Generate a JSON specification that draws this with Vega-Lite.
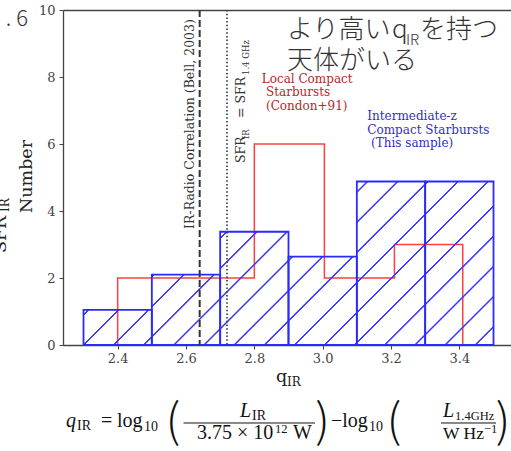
{
"$schema": "https://vega.github.io/schema/vega-lite/v6.json",
"width": 448, "height": 335,
"autosize": "none",
"padding": {"left": 63, "top": 10, "right": 0, "bottom": 106},
"background": "white",
"config": {"view": {"stroke": null}},
"resolve": {"axis": {"x": "independent", "y": "independent"}},
"layer": [
{
"data": {"values": [
{"i":0,"q":2.4,"n":0},{"i":1,"q":2.4,"n":2},{"i":2,"q":2.8,"n":2},{"i":3,"q":2.8,"n":6},{"i":4,"q":3.005,"n":6},{"i":5,"q":3.005,"n":2},{"i":6,"q":3.21,"n":2},{"i":7,"q":3.21,"n":3},{"i":8,"q":3.41,"n":3},{"i":9,"q":3.41,"n":0}]},
"mark": {"type": "line", "color": "#ff4040", "strokeWidth": 1.5, "interpolate": "linear"},
"encoding": {
"x": {"field": "q", "type": "quantitative", "scale": {"domain": [2.24, 3.5512], "nice": false, "zero": false}, "axis": null},
"y": {"field": "n", "type": "quantitative", "scale": {"domain": [0, 10], "nice": false, "zero": false}, "axis": null},
"order": {"field": "i"}
}
},
{
"data": {"values": [
{"start":2.3,"end":2.5,"count":1.05},
{"start":2.5,"end":2.7,"count":2.1},
{"start":2.7,"end":2.9,"count":3.38},
{"start":2.9,"end":3.1,"count":2.64},
{"start":3.1,"end":3.3,"count":4.88},
{"start":3.3,"end":3.5,"count":4.88}]},
"mark": {"type": "bar", "stroke": "#2a2aff", "strokeWidth": 1.8},
"encoding": {
"x": {"field": "start", "type": "quantitative", "axis": {"orient": "bottom", "values": [2.4,2.6,2.8,3.0,3.2,3.4], "format": ".1f", "title": null, "grid": false, "labelFont": "DejaVu Serif", "labelFontSize": 13, "labelColor": "#444", "tickColor": "#444", "domainColor": "#444", "domainWidth": 1.3, "tickSize": 4, "labelPadding": 3}},
"x2": {"field": "end"},
"y": {"field": "count", "type": "quantitative", "axis": {"orient": "left", "values": [0,2,4,6,8,10], "title": null, "grid": false, "labelFont": "DejaVu Serif", "labelFontSize": 13, "labelColor": "#444", "tickColor": "#444", "domainColor": "#444", "domainWidth": 1.3, "tickSize": 4, "labelPadding": 4}},
"y2": {"datum": 0},
"fill": {"condition": [
{"test": "datum.start == 2.3", "value": {"gradient": "linear", "x1": 0, "y1": 0, "x2": 1.1975, "y2": 0.6165, "stops": [
{"offset":0.0352,"color":"rgba(58,58,255,0)"},{"offset":0.0419,"color":"#3a3aff"},{"offset":0.0555,"color":"#3a3aff"},{"offset":0.0622,"color":"rgba(58,58,255,0)"},
{"offset":0.3263,"color":"rgba(58,58,255,0)"},{"offset":0.3330,"color":"#3a3aff"},{"offset":0.3466,"color":"#3a3aff"},{"offset":0.3533,"color":"rgba(58,58,255,0)"},
{"offset":0.6174,"color":"rgba(58,58,255,0)"},{"offset":0.6241,"color":"#3a3aff"},{"offset":0.6377,"color":"#3a3aff"},{"offset":0.6444,"color":"rgba(58,58,255,0)"},
{"offset":0.9084,"color":"rgba(58,58,255,0)"},{"offset":0.9151,"color":"#3a3aff"},{"offset":0.9287,"color":"#3a3aff"},{"offset":0.9354,"color":"rgba(58,58,255,0)"}]}},
{"test": "datum.start == 2.5", "value": {"gradient": "linear", "x1": 0, "y1": 0, "x2": 0.9852, "y2": 1.0144, "stops": [
{"offset":0.0045,"color":"rgba(58,58,255,0)"},{"offset":0.0096,"color":"#3a3aff"},{"offset":0.0197,"color":"#3a3aff"},{"offset":0.0247,"color":"rgba(58,58,255,0)"},
{"offset":0.2217,"color":"rgba(58,58,255,0)"},{"offset":0.2268,"color":"#3a3aff"},{"offset":0.2369,"color":"#3a3aff"},{"offset":0.2419,"color":"rgba(58,58,255,0)"},
{"offset":0.4390,"color":"rgba(58,58,255,0)"},{"offset":0.4441,"color":"#3a3aff"},{"offset":0.4542,"color":"#3a3aff"},{"offset":0.4592,"color":"rgba(58,58,255,0)"},
{"offset":0.6563,"color":"rgba(58,58,255,0)"},{"offset":0.6614,"color":"#3a3aff"},{"offset":0.6715,"color":"#3a3aff"},{"offset":0.6765,"color":"rgba(58,58,255,0)"},
{"offset":0.8735,"color":"rgba(58,58,255,0)"},{"offset":0.8786,"color":"#3a3aff"},{"offset":0.8887,"color":"#3a3aff"},{"offset":0.8937,"color":"rgba(58,58,255,0)"}]}},
{"test": "datum.start == 2.7", "value": {"gradient": "linear", "x1": 0, "y1": 0, "x2": 0.7093, "y2": 1.1754, "stops": [
{"offset":0.0291,"color":"rgba(58,58,255,0)"},{"offset":0.0329,"color":"#3a3aff"},{"offset":0.0407,"color":"#3a3aff"},{"offset":0.0445,"color":"rgba(58,58,255,0)"},
{"offset":0.1951,"color":"rgba(58,58,255,0)"},{"offset":0.1989,"color":"#3a3aff"},{"offset":0.2067,"color":"#3a3aff"},{"offset":0.2105,"color":"rgba(58,58,255,0)"},
{"offset":0.3610,"color":"rgba(58,58,255,0)"},{"offset":0.3648,"color":"#3a3aff"},{"offset":0.3726,"color":"#3a3aff"},{"offset":0.3764,"color":"rgba(58,58,255,0)"},
{"offset":0.5270,"color":"rgba(58,58,255,0)"},{"offset":0.5308,"color":"#3a3aff"},{"offset":0.5386,"color":"#3a3aff"},{"offset":0.5424,"color":"rgba(58,58,255,0)"},
{"offset":0.6929,"color":"rgba(58,58,255,0)"},{"offset":0.6967,"color":"#3a3aff"},{"offset":0.7045,"color":"#3a3aff"},{"offset":0.7083,"color":"rgba(58,58,255,0)"},
{"offset":0.8589,"color":"rgba(58,58,255,0)"},{"offset":0.8627,"color":"#3a3aff"},{"offset":0.8705,"color":"#3a3aff"},{"offset":0.8743,"color":"rgba(58,58,255,0)"}]}},
{"test": "datum.start == 2.9", "value": {"gradient": "linear", "x1": 0, "y1": 0, "x2": 0.8576, "y2": 1.1100, "stops": [
{"offset":0.0164,"color":"rgba(58,58,255,0)"},{"offset":0.0208,"color":"#3a3aff"},{"offset":0.0298,"color":"#3a3aff"},{"offset":0.0342,"color":"rgba(58,58,255,0)"},
{"offset":0.2086,"color":"rgba(58,58,255,0)"},{"offset":0.2130,"color":"#3a3aff"},{"offset":0.2220,"color":"#3a3aff"},{"offset":0.2264,"color":"rgba(58,58,255,0)"},
{"offset":0.4007,"color":"rgba(58,58,255,0)"},{"offset":0.4051,"color":"#3a3aff"},{"offset":0.4141,"color":"#3a3aff"},{"offset":0.4185,"color":"rgba(58,58,255,0)"},
{"offset":0.5929,"color":"rgba(58,58,255,0)"},{"offset":0.5973,"color":"#3a3aff"},{"offset":0.6063,"color":"#3a3aff"},{"offset":0.6107,"color":"rgba(58,58,255,0)"},
{"offset":0.7851,"color":"rgba(58,58,255,0)"},{"offset":0.7895,"color":"#3a3aff"},{"offset":0.7985,"color":"#3a3aff"},{"offset":0.8029,"color":"rgba(58,58,255,0)"},
{"offset":0.9773,"color":"rgba(58,58,255,0)"},{"offset":0.9817,"color":"#3a3aff"},{"offset":0.9907,"color":"#3a3aff"},{"offset":0.9951,"color":"rgba(58,58,255,0)"}]}},
{"test": "datum.start == 3.1", "value": {"gradient": "linear", "x1": 0, "y1": 0, "x2": 0.5045, "y2": 1.2071, "stops": [
{"offset":0.0400,"color":"rgba(58,58,255,0)"},{"offset":0.0430,"color":"#3a3aff"},{"offset":0.0490,"color":"#3a3aff"},{"offset":0.0520,"color":"rgba(58,58,255,0)"},
{"offset":0.1700,"color":"rgba(58,58,255,0)"},{"offset":0.1730,"color":"#3a3aff"},{"offset":0.1790,"color":"#3a3aff"},{"offset":0.1820,"color":"rgba(58,58,255,0)"},
{"offset":0.2999,"color":"rgba(58,58,255,0)"},{"offset":0.3029,"color":"#3a3aff"},{"offset":0.3089,"color":"#3a3aff"},{"offset":0.3119,"color":"rgba(58,58,255,0)"},
{"offset":0.4299,"color":"rgba(58,58,255,0)"},{"offset":0.4329,"color":"#3a3aff"},{"offset":0.4389,"color":"#3a3aff"},{"offset":0.4419,"color":"rgba(58,58,255,0)"},
{"offset":0.5599,"color":"rgba(58,58,255,0)"},{"offset":0.5629,"color":"#3a3aff"},{"offset":0.5689,"color":"#3a3aff"},{"offset":0.5719,"color":"rgba(58,58,255,0)"},
{"offset":0.6899,"color":"rgba(58,58,255,0)"},{"offset":0.6929,"color":"#3a3aff"},{"offset":0.6989,"color":"#3a3aff"},{"offset":0.7019,"color":"rgba(58,58,255,0)"},
{"offset":0.8198,"color":"rgba(58,58,255,0)"},{"offset":0.8228,"color":"#3a3aff"},{"offset":0.8288,"color":"#3a3aff"},{"offset":0.8318,"color":"rgba(58,58,255,0)"},
{"offset":0.9498,"color":"rgba(58,58,255,0)"},{"offset":0.9528,"color":"#3a3aff"},{"offset":0.9588,"color":"#3a3aff"},{"offset":0.9618,"color":"rgba(58,58,255,0)"}]}},
{"test": "datum.start == 3.3", "value": {"gradient": "linear", "x1": 0, "y1": 0, "x2": 0.5045, "y2": 1.2071, "stops": [
{"offset":0.0052,"color":"rgba(58,58,255,0)"},{"offset":0.0082,"color":"#3a3aff"},{"offset":0.0142,"color":"#3a3aff"},{"offset":0.0172,"color":"rgba(58,58,255,0)"},
{"offset":0.1352,"color":"rgba(58,58,255,0)"},{"offset":0.1382,"color":"#3a3aff"},{"offset":0.1442,"color":"#3a3aff"},{"offset":0.1472,"color":"rgba(58,58,255,0)"},
{"offset":0.2651,"color":"rgba(58,58,255,0)"},{"offset":0.2681,"color":"#3a3aff"},{"offset":0.2741,"color":"#3a3aff"},{"offset":0.2771,"color":"rgba(58,58,255,0)"},
{"offset":0.3951,"color":"rgba(58,58,255,0)"},{"offset":0.3981,"color":"#3a3aff"},{"offset":0.4041,"color":"#3a3aff"},{"offset":0.4071,"color":"rgba(58,58,255,0)"},
{"offset":0.5251,"color":"rgba(58,58,255,0)"},{"offset":0.5281,"color":"#3a3aff"},{"offset":0.5341,"color":"#3a3aff"},{"offset":0.5371,"color":"rgba(58,58,255,0)"},
{"offset":0.6551,"color":"rgba(58,58,255,0)"},{"offset":0.6581,"color":"#3a3aff"},{"offset":0.6641,"color":"#3a3aff"},{"offset":0.6671,"color":"rgba(58,58,255,0)"},
{"offset":0.7850,"color":"rgba(58,58,255,0)"},{"offset":0.7880,"color":"#3a3aff"},{"offset":0.7940,"color":"#3a3aff"},{"offset":0.7970,"color":"rgba(58,58,255,0)"},
{"offset":0.9150,"color":"rgba(58,58,255,0)"},{"offset":0.9180,"color":"#3a3aff"},{"offset":0.9240,"color":"#3a3aff"},{"offset":0.9270,"color":"rgba(58,58,255,0)"}]}}
], "value": "transparent"}
}
},
{
"data": {"values": [{"q": 2.64}]},
"mark": {"type": "rule", "color": "#333", "strokeWidth": 2, "strokeDash": [7, 3]},
"encoding": {"x": {"field": "q", "type": "quantitative", "axis": {"orient": "top", "labels": false, "ticks": false, "title": null, "grid": false, "domainColor": "#444", "domainWidth": 1.3}}}
},
{
"data": {"values": [{"q": 2.72}]},
"mark": {"type": "rule", "color": "#333", "strokeWidth": 1.6, "strokeDash": [1.5, 2.2]},
"encoding": {"x": {"field": "q", "type": "quantitative", "axis": null}}
},
{
"data": {"values": [{"x": 2.1376, "y": 9.522, "t": ". 6"}]},
"mark": {"type": "text", "font": "Noto Sans CJK JP", "fontSize": 22, "fontWeight": 300, "color": "#333", "align": "right", "baseline": "alphabetic"},
"encoding": {"x": {"field": "x", "type": "quantitative", "axis": null}, "y": {"field": "y", "type": "quantitative", "axis": null}, "text": {"field": "t"}}
},
{
"data": {"values": [{"x": 2.8956, "y": 9.164, "t": "より高い"}, {"x": 3.2029, "y": 9.164, "t": "q"}, {"x": 3.2849, "y": 9.164, "t": "を持つ"}, {"x": 2.8956, "y": 8.224, "t": "天体がいる"}]},
"mark": {"type": "text", "font": "Noto Sans CJK JP", "fontSize": 26, "fontWeight": 300, "color": "#333", "align": "left", "baseline": "alphabetic"},
"encoding": {"x": {"field": "x", "type": "quantitative", "axis": null}, "y": {"field": "y", "type": "quantitative", "axis": null}, "text": {"field": "t"}}
},
{
"data": {"values": [{"x": 3.2439, "y": 8.97, "t": "IR"}]},
"mark": {"type": "text", "font": "Noto Sans CJK JP", "fontSize": 15, "fontWeight": 300, "color": "#333", "align": "left", "baseline": "alphabetic"},
"encoding": {"x": {"field": "x", "type": "quantitative", "axis": null}, "y": {"field": "y", "type": "quantitative", "axis": null}, "text": {"field": "t"}}
},
{
"data": {"values": [{"x": 2.8216, "y": 7.821, "t": "Local Compact"}, {"x": 2.8341, "y": 7.418, "t": "Starbursts"}, {"x": 2.8341, "y": 7.015, "t": "(Condon+91)"}]},
"mark": {"type": "text", "font": "DejaVu Serif", "fontSize": 12, "color": "#b22a2a", "align": "left", "baseline": "alphabetic"},
"encoding": {"x": {"field": "x", "type": "quantitative", "axis": null}, "y": {"field": "y", "type": "quantitative", "axis": null}, "text": {"field": "t"}}
},
{
"data": {"values": [{"x": 3.1306, "y": 6.716, "t": "Intermediate-z"}, {"x": 3.1306, "y": 6.299, "t": "Compact Starbursts"}, {"x": 3.1415, "y": 5.896, "t": "(This sample)"}]},
"mark": {"type": "text", "font": "DejaVu Serif", "fontSize": 12, "color": "#3030c0", "align": "left", "baseline": "alphabetic"},
"encoding": {"x": {"field": "x", "type": "quantitative", "axis": null}, "y": {"field": "y", "type": "quantitative", "axis": null}, "text": {"field": "t"}}
},
{
"data": {"values": [{"x": 2.6234, "y": 6.597, "t": "IR-Radio Correlation (Bell, 2003)"}]},
"mark": {"type": "text", "font": "DejaVu Serif", "fontSize": 12.5, "color": "#333", "align": "center", "baseline": "alphabetic", "angle": 270},
"encoding": {"x": {"field": "x", "type": "quantitative", "axis": null}, "y": {"field": "y", "type": "quantitative", "axis": null}, "text": {"field": "t"}}
},
{
"data": {"values": [{"x": 2.7727, "y": 5.433, "t": "SFR"}, {"x": 2.7727, "y": 6.776, "t": "= SFR"}]},
"mark": {"type": "text", "font": "DejaVu Serif", "fontSize": 12.5, "color": "#333", "align": "left", "baseline": "alphabetic", "angle": 270},
"encoding": {"x": {"field": "x", "type": "quantitative", "axis": null}, "y": {"field": "y", "type": "quantitative", "axis": null}, "text": {"field": "t"}}
},
{
"data": {"values": [{"x": 2.7844, "y": 6.149, "t": "IR"}, {"x": 2.7844, "y": 8.060, "t": "1.4 GHz"}]},
"mark": {"type": "text", "font": "DejaVu Serif", "fontSize": 8.5, "color": "#333", "align": "left", "baseline": "alphabetic", "angle": 270},
"encoding": {"x": {"field": "x", "type": "quantitative", "axis": null}, "y": {"field": "y", "type": "quantitative", "axis": null}, "text": {"field": "t"}}
},
{
"data": {"values": [{"x": 2.1493, "y": 3.94, "t": "Number"}, {"x": 2.0732, "y": 2.746, "t": "SFR"}]},
"mark": {"type": "text", "font": "DejaVu Serif", "fontSize": 17.5, "color": "#222", "align": "left", "baseline": "alphabetic", "angle": 270},
"encoding": {"x": {"field": "x", "type": "quantitative", "axis": null}, "y": {"field": "y", "type": "quantitative", "axis": null}, "text": {"field": "t"}}
},
{
"data": {"values": [{"x": 2.082, "y": 3.97, "t": "IR"}]},
"mark": {"type": "text", "font": "DejaVu Serif", "fontSize": 12, "color": "#222", "align": "left", "baseline": "alphabetic", "angle": 270},
"encoding": {"x": {"field": "x", "type": "quantitative", "axis": null}, "y": {"field": "y", "type": "quantitative", "axis": null}, "text": {"field": "t"}}
},
{
"data": {"values": [{"x": 2.8634, "y": -1.104, "t": "q"}]},
"mark": {"type": "text", "font": "DejaVu Serif", "fontSize": 17.5, "color": "#222", "align": "left", "baseline": "alphabetic"},
"encoding": {"x": {"field": "x", "type": "quantitative", "axis": null}, "y": {"field": "y", "type": "quantitative", "axis": null}, "text": {"field": "t"}}
},
{
"data": {"values": [{"x": 2.8956, "y": -1.224, "t": "IR"}]},
"mark": {"type": "text", "font": "DejaVu Serif", "fontSize": 12, "color": "#222", "align": "left", "baseline": "alphabetic"},
"encoding": {"x": {"field": "x", "type": "quantitative", "axis": null}, "y": {"field": "y", "type": "quantitative", "axis": null}, "text": {"field": "t"}}
},
{
"data": {"values": [{"x": 2.2488, "y": -2.433, "t": "q"}, {"x": 2.758, "y": -2.164, "t": "L"}, {"x": 3.3522, "y": -2.164, "t": "L"}]},
"mark": {"type": "text", "font": "Liberation Serif", "fontSize": 20, "fontStyle": "italic", "color": "#111", "align": "left", "baseline": "alphabetic"},
"encoding": {"x": {"field": "x", "type": "quantitative", "axis": null}, "y": {"field": "y", "type": "quantitative", "axis": null}, "text": {"field": "t"}}
},
{
"data": {"values": [{"x": 2.3512, "y": -2.433, "t": "="}, {"x": 2.398, "y": -2.433, "t": "log"}, {"x": 2.6322, "y": -2.806, "t": "3.75 × 10"}, {"x": 2.9132, "y": -2.806, "t": "W"}, {"x": 3.0244, "y": -2.433, "t": "−log"}]},
"mark": {"type": "text", "font": "Liberation Serif", "fontSize": 20, "color": "#111", "align": "left", "baseline": "alphabetic"},
"encoding": {"x": {"field": "x", "type": "quantitative", "axis": null}, "y": {"field": "y", "type": "quantitative", "axis": null}, "text": {"field": "t"}}
},
{
"data": {"values": [{"x": 3.3522, "y": -2.806, "t": "W Hz"}]},
"mark": {"type": "text", "font": "Liberation Serif", "fontSize": 17.5, "color": "#111", "align": "left", "baseline": "alphabetic"},
"encoding": {"x": {"field": "x", "type": "quantitative", "axis": null}, "y": {"field": "y", "type": "quantitative", "axis": null}, "text": {"field": "t"}}
},
{
"data": {"values": [{"x": 2.281, "y": -2.537, "t": "IR"}, {"x": 2.4771, "y": -2.567, "t": "10"}, {"x": 2.7932, "y": -2.239, "t": "IR"}, {"x": 3.1356, "y": -2.567, "t": "10"}]},
"mark": {"type": "text", "font": "Liberation Serif", "fontSize": 14, "color": "#111", "align": "left", "baseline": "alphabetic"},
"encoding": {"x": {"field": "x", "type": "quantitative", "axis": null}, "y": {"field": "y", "type": "quantitative", "axis": null}, "text": {"field": "t"}}
},
{
"data": {"values": [{"x": 2.8605, "y": -2.627, "t": "12"}, {"x": 3.3873, "y": -2.239, "t": "1.4GHz"}, {"x": 3.4722, "y": -2.627, "t": "−1"}]},
"mark": {"type": "text", "font": "Liberation Serif", "fontSize": 12.5, "color": "#111", "align": "left", "baseline": "alphabetic"},
"encoding": {"x": {"field": "x", "type": "quantitative", "axis": null}, "y": {"field": "y", "type": "quantitative", "axis": null}, "text": {"field": "t"}}
},
{
"data": {"values": [{"x": 2.5619, "y": -2.343, "t": "("}, {"x": 2.9995, "y": -2.343, "t": ")"}, {"x": 3.2088, "y": -2.343, "t": "("}, {"x": 3.5278, "y": -2.343, "t": ")"}]},
"mark": {"type": "text", "font": "Noto Sans CJK JP", "fontSize": 46, "fontWeight": 200, "color": "#111", "align": "center", "baseline": "middle"},
"encoding": {"x": {"field": "x", "type": "quantitative", "axis": null}, "y": {"field": "y", "type": "quantitative", "axis": null}, "text": {"field": "t"}}
},
{
"data": {"values": [{"x1": 2.5929, "x2": 2.9776, "y": -2.328}, {"x1": 3.3463, "x2": 3.5073, "y": -2.328}]},
"mark": {"type": "rule", "color": "#111", "strokeWidth": 1},
"encoding": {"x": {"field": "x1", "type": "quantitative", "axis": null}, "x2": {"field": "x2"}, "y": {"field": "y", "type": "quantitative", "axis": null}}
}
]
}
